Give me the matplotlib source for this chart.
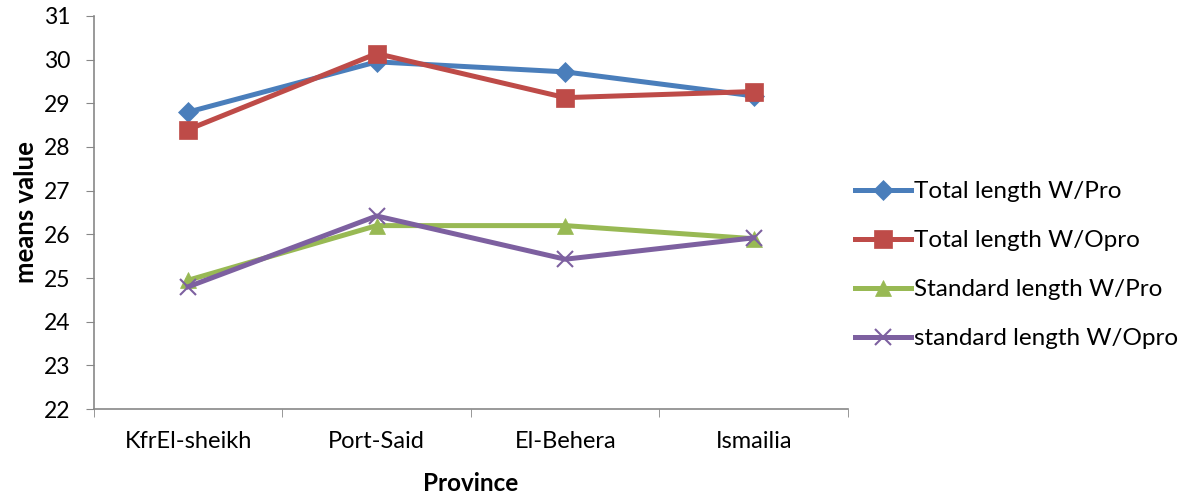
import matplotlib
matplotlib.use("Agg")
import matplotlib.pyplot as plt
from matplotlib.ticker import FixedLocator, NullFormatter

plt.rcParams["font.family"] = ["Lato", "DejaVu Sans"]

provinces = ["KfrEl-sheikh", "Port-Said", "El-Behera", "Ismailia"]
total_w_pro = [28.80, 29.95, 29.72, 29.17]
total_w_opro = [28.40, 30.14, 29.13, 29.27]
standard_w_pro = [24.95, 26.20, 26.20, 25.90]
standard_w_opro = [24.80, 26.42, 25.43, 25.92]

series = [
    ("Total length W/Pro", total_w_pro, "#4A7EBB", "D", 10),
    ("Total length W/Opro", total_w_opro, "#BE4B48", "s", 13),
    ("Standard length W/Pro", standard_w_pro, "#98B954", "^", 12),
    ("standard length W/Opro", standard_w_opro, "#7D60A0", "x", 12),
]

fig = plt.figure(figsize=(11.85, 4.98), dpi=100)
ax = fig.add_axes([0.0793, 0.1787, 0.6363, 0.7892])

x = range(len(provinces))
for label, vals, color, marker, ms in series:
    ax.plot(x, vals, color=color, linewidth=3.6, marker=marker, markersize=ms,
            markeredgewidth=1.5 if marker == "x" else 0.5, markeredgecolor=color,
            label=label)

ax.set_xlim(-0.5, len(provinces) - 0.5)
ax.set_ylim(22, 31)
ax.set_yticks(range(22, 32))
ax.set_xticks(list(x))
ax.set_xticklabels(provinces)
# category boundaries carry the tick marks, Excel style
ax.xaxis.set_minor_locator(FixedLocator([i - 0.5 for i in range(len(provinces) + 1)]))
ax.xaxis.set_minor_formatter(NullFormatter())

gray = "#878787"
for side in ["top", "right"]:
    ax.spines[side].set_visible(False)
for side in ["left", "bottom"]:
    ax.spines[side].set_color(gray)
    ax.spines[side].set_linewidth(1.2)

ax.tick_params(axis="y", direction="out", length=6, color=gray, labelsize=16.5, pad=11)
ax.tick_params(axis="x", which="major", length=0, labelsize=17, pad=16)
ax.tick_params(axis="x", which="minor", direction="out", length=6, color=gray)

ax.set_xlabel("Province", fontsize=17.5, fontweight="bold", labelpad=14)
ax.set_ylabel("means value", fontsize=18.5, fontweight="bold", labelpad=4)

fig.legend(loc="center left", bbox_to_anchor=(0.7215, 0.467), frameon=False,
           fontsize=17.5, handlelength=2.3, handletextpad=0.12, labelspacing=1.15,
           borderaxespad=0, borderpad=0)

fig.savefig("out.png", dpi=100)
